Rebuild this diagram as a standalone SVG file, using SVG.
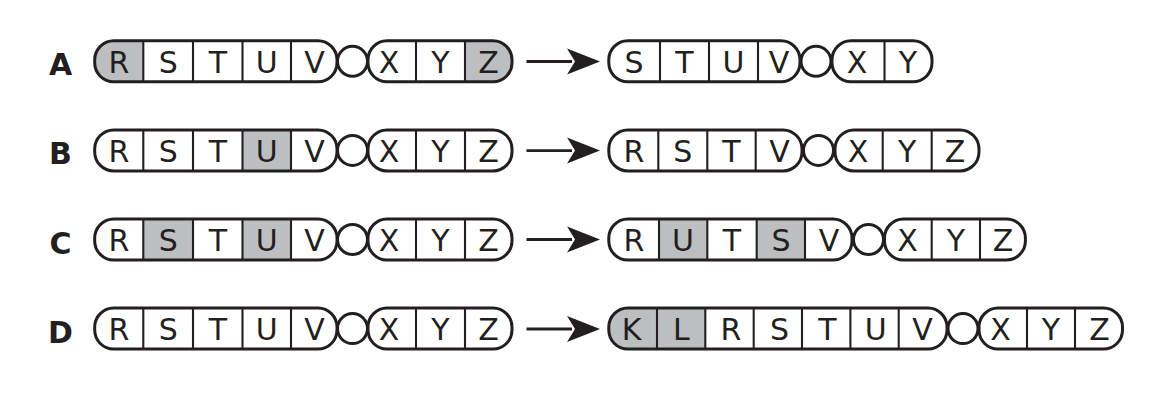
<svg xmlns="http://www.w3.org/2000/svg" width="1168" height="402" viewBox="0 0 1168 402">
<style>
.bg{fill:#fff;stroke:none}
.sh{fill:#bcbec0;stroke:none}
.cap{fill:none;stroke:#231f20;stroke-width:3}
.ring{fill:#fff;stroke:#231f20;stroke-width:3}
.dv{stroke:#231f20;stroke-width:2.1}
.t{font-family:"DejaVu Sans","Liberation Sans",sans-serif;font-size:30px;fill:#231f20;text-anchor:middle}
.lbl{font-family:"DejaVu Sans","Liberation Sans",sans-serif;font-size:30px;font-weight:bold;fill:#231f20;text-anchor:middle}
.arr{stroke:#231f20;stroke-width:2.8;fill:none}
.head{fill:#231f20;stroke:none}
</style>
<defs>
<g id="leftseq">
<circle class="ring" cx="352.5" cy="0" r="15"/>
<rect class="bg" x="94.7" y="-20.5" width="242.3" height="41" rx="19" ry="19"/>
<rect class="bg" x="368" y="-20.5" width="144" height="41" rx="19" ry="19"/>
</g>
<g id="leftlines">
<line class="dv" x1="143.3" y1="-20.5" x2="143.3" y2="20.5"/>
<line class="dv" x1="193" y1="-20.5" x2="193" y2="20.5"/>
<line class="dv" x1="242.5" y1="-20.5" x2="242.5" y2="20.5"/>
<line class="dv" x1="291" y1="-20.5" x2="291" y2="20.5"/>
<line class="dv" x1="416" y1="-20.5" x2="416" y2="20.5"/>
<line class="dv" x1="465" y1="-20.5" x2="465" y2="20.5"/>
<rect class="cap" x="94.7" y="-20.5" width="242.3" height="41" rx="19" ry="19"/>
<rect class="cap" x="368" y="-20.5" width="144" height="41" rx="19" ry="19"/>
<text class="t" x="119" y="11.5">R</text>
<text class="t" x="168.2" y="11.5">S</text>
<text class="t" x="217.8" y="11.5">T</text>
<text class="t" x="266.8" y="11.5">U</text>
<text class="t" x="314.5" y="11.5">V</text>
<text class="t" x="389" y="11.5">X</text>
<text class="t" x="440.5" y="11.5">Y</text>
<text class="t" x="488.5" y="11.5">Z</text>
</g>
</defs>

<g id="labels">
<text class="lbl" x="60.5" y="75.3">A</text>
<text class="lbl" x="60.5" y="164.4">B</text>
<text class="lbl" x="60.5" y="253.5">C</text>
<text class="lbl" x="60.5" y="342.6">D</text>
</g>

<g id="A-before" transform="translate(0,61.3)">
<use href="#leftseq"/>
<path class="sh" d="M143.3,-20.5 H113.7 A19,19 0 0 0 94.7,-1.5 V1.5 A19,19 0 0 0 113.7,20.5 H143.3 Z"/>
<path class="sh" d="M465,-20.5 H493 A19,19 0 0 1 512,-1.5 V1.5 A19,19 0 0 1 493,20.5 H465 Z"/>
<use href="#leftlines"/>
</g>

<g id="B-before" transform="translate(0,150.4)">
<use href="#leftseq"/>
<rect class="sh" x="242.5" y="-20.5" width="48.5" height="41"/>
<use href="#leftlines"/>
</g>

<g id="C-before" transform="translate(0,239.5)">
<use href="#leftseq"/>
<rect class="sh" x="143.3" y="-20.5" width="49.7" height="41"/>
<rect class="sh" x="242.5" y="-20.5" width="48.5" height="41"/>
<use href="#leftlines"/>
</g>

<g id="D-before" transform="translate(0,328.6)">
<use href="#leftseq"/>
<use href="#leftlines"/>
</g>

<g id="connectors">
<g transform="translate(0,61.5)">
<line class="arr" x1="526.5" y1="0" x2="572" y2="0"/>
<path class="head" d="M600,0 L567,-13 L575,0 L567,13 Z"/>
</g>
<g transform="translate(0,150.6)">
<line class="arr" x1="526.5" y1="0" x2="572" y2="0"/>
<path class="head" d="M600,0 L567,-13 L575,0 L567,13 Z"/>
</g>
<g transform="translate(0,239.5)">
<line class="arr" x1="526.5" y1="0" x2="572" y2="0"/>
<path class="head" d="M600,0 L567,-13 L575,0 L567,13 Z"/>
</g>
<g transform="translate(0,329)">
<line class="arr" x1="526.5" y1="0" x2="572" y2="0"/>
<path class="head" d="M600,0 L567,-13 L575,0 L567,13 Z"/>
</g>
</g>

<g id="A-after" transform="translate(0,61.3)">
<circle class="ring" cx="816" cy="0" r="15"/>
<rect class="bg" x="608.8" y="-20.5" width="191.2" height="41" rx="19" ry="19"/>
<rect class="bg" x="832" y="-20.5" width="100" height="41" rx="19" ry="19"/>
<line class="dv" x1="660" y1="-20.5" x2="660" y2="20.5"/>
<line class="dv" x1="709" y1="-20.5" x2="709" y2="20.5"/>
<line class="dv" x1="758" y1="-20.5" x2="758" y2="20.5"/>
<line class="dv" x1="884.5" y1="-20.5" x2="884.5" y2="20.5"/>
<rect class="cap" x="608.8" y="-20.5" width="191.2" height="41" rx="19" ry="19"/>
<rect class="cap" x="832" y="-20.5" width="100" height="41" rx="19" ry="19"/>
<text class="t" x="634" y="11.5">S</text>
<text class="t" x="684.5" y="11.5">T</text>
<text class="t" x="733.5" y="11.5">U</text>
<text class="t" x="779" y="11.5">V</text>
<text class="t" x="857" y="11.5">X</text>
<text class="t" x="908" y="11.5">Y</text>
</g>

<g id="B-after" transform="translate(0,150.4)">
<circle class="ring" cx="818.5" cy="0" r="15"/>
<rect class="bg" x="608.8" y="-20.5" width="193.2" height="41" rx="19" ry="19"/>
<rect class="bg" x="835" y="-20.5" width="144" height="41" rx="19" ry="19"/>
<line class="dv" x1="658.3" y1="-20.5" x2="658.3" y2="20.5"/>
<line class="dv" x1="707.3" y1="-20.5" x2="707.3" y2="20.5"/>
<line class="dv" x1="755.7" y1="-20.5" x2="755.7" y2="20.5"/>
<line class="dv" x1="882.7" y1="-20.5" x2="882.7" y2="20.5"/>
<line class="dv" x1="931.7" y1="-20.5" x2="931.7" y2="20.5"/>
<rect class="cap" x="608.8" y="-20.5" width="193.2" height="41" rx="19" ry="19"/>
<rect class="cap" x="835" y="-20.5" width="144" height="41" rx="19" ry="19"/>
<text class="t" x="634" y="11.5">R</text>
<text class="t" x="682.8" y="11.5">S</text>
<text class="t" x="731.5" y="11.5">T</text>
<text class="t" x="779.5" y="11.5">V</text>
<text class="t" x="858" y="11.5">X</text>
<text class="t" x="907.2" y="11.5">Y</text>
<text class="t" x="955" y="11.5">Z</text>
</g>

<g id="C-after" transform="translate(0,239.5)">
<circle class="ring" cx="868.5" cy="0" r="15"/>
<rect class="bg" x="608.8" y="-20.5" width="243.2" height="41" rx="19" ry="19"/>
<rect class="bg" x="884.5" y="-20.5" width="140.9" height="41" rx="19" ry="19"/>
<rect class="sh" x="659" y="-20.5" width="48.3" height="41"/>
<rect class="sh" x="756.7" y="-20.5" width="48.3" height="41"/>
<line class="dv" x1="659" y1="-20.5" x2="659" y2="20.5"/>
<line class="dv" x1="707.3" y1="-20.5" x2="707.3" y2="20.5"/>
<line class="dv" x1="756.7" y1="-20.5" x2="756.7" y2="20.5"/>
<line class="dv" x1="805" y1="-20.5" x2="805" y2="20.5"/>
<line class="dv" x1="931.7" y1="-20.5" x2="931.7" y2="20.5"/>
<line class="dv" x1="980" y1="-20.5" x2="980" y2="20.5"/>
<rect class="cap" x="608.8" y="-20.5" width="243.2" height="41" rx="19" ry="19"/>
<rect class="cap" x="884.5" y="-20.5" width="140.9" height="41" rx="19" ry="19"/>
<text class="t" x="634" y="11.5">R</text>
<text class="t" x="683" y="11.5">U</text>
<text class="t" x="732" y="11.5">T</text>
<text class="t" x="781" y="11.5">S</text>
<text class="t" x="829" y="11.5">V</text>
<text class="t" x="907.5" y="11.5">X</text>
<text class="t" x="956" y="11.5">Y</text>
<text class="t" x="1003" y="11.5">Z</text>
</g>

<g id="D-after" transform="translate(0,328.6)">
<circle class="ring" cx="963" cy="0" r="15"/>
<rect class="bg" x="608.8" y="-20.5" width="338.2" height="41" rx="19" ry="19"/>
<rect class="bg" x="979" y="-20.5" width="143.5" height="41" rx="19" ry="19"/>
<path class="sh" d="M705.3,-20.5 H627.8 A19,19 0 0 0 608.8,-1.5 V1.5 A19,19 0 0 0 627.8,20.5 H705.3 Z"/>
<line class="dv" x1="657" y1="-20.5" x2="657" y2="20.5"/>
<line class="dv" x1="705.3" y1="-20.5" x2="705.3" y2="20.5"/>
<line class="dv" x1="753.7" y1="-20.5" x2="753.7" y2="20.5"/>
<line class="dv" x1="802" y1="-20.5" x2="802" y2="20.5"/>
<line class="dv" x1="850.4" y1="-20.5" x2="850.4" y2="20.5"/>
<line class="dv" x1="898.7" y1="-20.5" x2="898.7" y2="20.5"/>
<line class="dv" x1="1027" y1="-20.5" x2="1027" y2="20.5"/>
<line class="dv" x1="1075" y1="-20.5" x2="1075" y2="20.5"/>
<rect class="cap" x="608.8" y="-20.5" width="338.2" height="41" rx="19" ry="19"/>
<rect class="cap" x="979" y="-20.5" width="143.5" height="41" rx="19" ry="19"/>
<text class="t" x="631.5" y="11.5">K</text>
<text class="t" x="681.3" y="11.5">L</text>
<text class="t" x="731" y="11.5">R</text>
<text class="t" x="779.5" y="11.5">S</text>
<text class="t" x="827.5" y="11.5">T</text>
<text class="t" x="875.7" y="11.5">U</text>
<text class="t" x="922.6" y="11.5">V</text>
<text class="t" x="1000.5" y="11.5">X</text>
<text class="t" x="1051" y="11.5">Y</text>
<text class="t" x="1099.5" y="11.5">Z</text>
</g>
</svg>
